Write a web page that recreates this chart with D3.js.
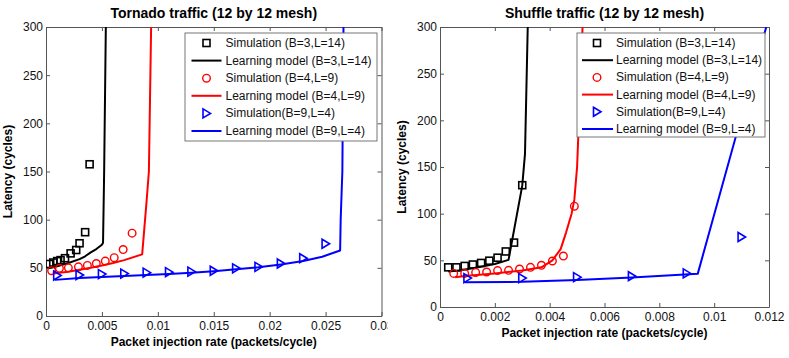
<!DOCTYPE html>
<html>
<head>
<meta charset="utf-8">
<script src="https://cdn.jsdelivr.net/npm/d3@7"></script>
<style>
  body { margin: 0; background: #fff; }
  svg { font-family: "Liberation Sans", Arial, sans-serif; }
</style>
</head>
<body>
<div id="chart"></div>
<script>
// data: [rate (packets/cycle), latency (cycles)]

const tornadoSimB3 = [[0.0003, 54], [0.00065, 55.5], [0.001, 57], [0.0013, 58], [0.0017, 60], [0.0022, 65], [0.0027, 68.5], [0.003, 75.5], [0.0035, 87], [0.0039, 157.5]];
const tornadoModelB3 = [[0.0002, 49.5], [0.001, 51.5], [0.002, 55], [0.003, 59], [0.0035, 62], [0.004, 66], [0.0045, 69.5], [0.005, 74], [0.0051, 76], [0.0052, 150], [0.00535, 300]];
const tornadoSimB4 = [[0.0005, 47], [0.0012, 49.5], [0.002, 50], [0.0029, 51], [0.0037, 52.5], [0.0045, 54.5], [0.0053, 57], [0.0061, 60.5], [0.0069, 69], [0.0077, 86]];
const tornadoModelB4 = [[0.0006, 44], [0.002, 46], [0.003, 48], [0.004, 50], [0.005, 52.5], [0.006, 55], [0.007, 58], [0.0086, 64], [0.009, 120], [0.0092, 150], [0.0094, 300]];
const tornadoSimB9 = [[0.001, 42], [0.003, 42.5], [0.005, 43.5], [0.007, 44], [0.009, 45], [0.011, 45.5], [0.013, 46], [0.015, 47], [0.017, 49.5], [0.019, 51], [0.021, 54.5], [0.023, 60], [0.025, 75]];
const tornadoModelB9 = [[0.0008, 37.5], [0.003, 39.5], [0.005, 40.5], [0.007, 41.5], [0.009, 42.5], [0.011, 43.5], [0.013, 45], [0.015, 46.5], [0.017, 48.5], [0.019, 50.5], [0.021, 53.5], [0.023, 57], [0.0247, 61.5], [0.0263, 68], [0.02635, 100], [0.0265, 150], [0.0266, 300]];

const shuffleSimB3 = [[0.0003, 42.5], [0.0006, 42.5], [0.0009, 44], [0.0012, 45.5], [0.0015, 47.2], [0.0018, 49.6], [0.0021, 52.8], [0.0024, 59.5], [0.0027, 69], [0.003, 130.5]];
const shuffleModelB3 = [[0.0003, 38], [0.0008, 39.5], [0.0014, 42.5], [0.002, 46], [0.0025, 50.5], [0.003, 130], [0.0031, 164], [0.0032, 300]];
const shuffleSimB4 = [[0.0005, 36], [0.0009, 36], [0.0013, 37], [0.0017, 37.5], [0.0021, 39], [0.0025, 39.3], [0.0029, 40.7], [0.0033, 42.5], [0.0037, 44.7], [0.0041, 49.3], [0.0045, 54.6], [0.0049, 108]];
const shuffleModelB4 = [[0.00055, 32], [0.001, 33.5], [0.002, 36], [0.003, 39], [0.0037, 42.5], [0.0041, 50], [0.0044, 62], [0.0046, 80], [0.0048, 100], [0.0049, 115], [0.005, 150], [0.0052, 300]];
const shuffleSimB9 = [[0.001, 31], [0.003, 31], [0.005, 32], [0.007, 33], [0.009, 36], [0.011, 75]];
const shuffleModelB9 = [[0.0009, 26.5], [0.003, 27], [0.005, 29], [0.007, 31.5], [0.0094, 35.5], [0.0119, 300]];

const legendLabels = ["Simulation (B=3,L=14)", "Learning model (B=3,L=14)", "Simulation (B=4,L=9)",
                      "Learning model (B=4,L=9)", "Simulation(B=9,L=4)", "Learning model (B=9,L=4)"];
const legendColors = ["black", "black", "red", "red", "blue", "blue"];
const legendKinds = ["square", "line", "circle", "line", "triangle", "line"];

const tornadoXTicks = [0, 0.005, 0.01, 0.015, 0.02, 0.025, 0.03];
const shuffleXTicks = [0, 0.002, 0.004, 0.006, 0.008, 0.01, 0.012];
const yTicks = [0, 50, 100, 150, 200, 250, 300];

const width = 789, height = 358;

const svg = d3.select("#chart").append("svg")
    .attr("width", width)
    .attr("height", height);

const panels = [
    { id: "tor", title: "Tornado traffic (12 by 12 mesh)", left: 46, right: 381.5, top: 27, bottom: 316,
      clipW: 388, xMax: 0.03, xTicks: tornadoXTicks,
      legend: { x: 185, y: 33, w: 192, h: 108, step: 17.6, sym: 21.5, line: [6.5, 36.5], text: 40.5 },
      sims: [tornadoSimB3, tornadoSimB4, tornadoSimB9], models: [tornadoModelB3, tornadoModelB4, tornadoModelB9] },
    { id: "shu", title: "Shuffle traffic (12 by 12 mesh)", left: 440, right: 769, top: 27, bottom: 307,
      clipW: null, xMax: 0.012, xTicks: shuffleXTicks,
      legend: { x: 577, y: 33, w: 188, h: 104, step: 17.2, sym: 20, line: [5, 36], text: 39 },
      sims: [shuffleSimB3, shuffleSimB4, shuffleSimB9], models: [shuffleModelB3, shuffleModelB4, shuffleModelB9] }
];

const colors = ["black", "red", "blue"];
const axisColor = "#555";

function drawMarker(g, kind, x, y, color) {
    if (kind === "square") {
        g.append("rect").attr("x", x - 3.5).attr("y", y - 3.5).attr("width", 7).attr("height", 7)
            .attr("fill", "none").attr("stroke", color).attr("stroke-width", 1.6);
    } else if (kind === "circle") {
        g.append("circle").attr("cx", x).attr("cy", y).attr("r", 3.8)
            .attr("fill", "none").attr("stroke", color).attr("stroke-width", 1.4);
    } else {
        g.append("path").attr("d", `M${x - 3.5},${y - 4.5}L${x + 4},${y}L${x - 3.5},${y + 4.5}Z`)
            .attr("fill", "none").attr("stroke", color).attr("stroke-width", 1.6);
    }
}

const kinds = ["square", "circle", "triangle"];

panels.forEach(p => {
    let g = svg.append("g");

    if (p.clipW) {
        svg.append("clipPath").attr("id", p.id + "-panel")
            .append("rect").attr("x", 0).attr("y", 0).attr("width", p.clipW).attr("height", height);
        g.attr("clip-path", `url(#${p.id}-panel)`);
    }

    let x = d3.scaleLinear().domain([0, p.xMax]).range([p.left, p.right]);
    let y = d3.scaleLinear().domain([0, 300]).range([p.bottom, p.top]);

    // plot-area clip for lines
    svg.append("clipPath").attr("id", p.id + "-plot")
        .append("rect").attr("x", p.left).attr("y", p.top)
        .attr("width", p.right - p.left).attr("height", p.bottom - p.top);

    let line = d3.line().x(d => x(d[0])).y(d => y(d[1]));

    // axes with inward ticks on all four sides (box)
    let fmt = d => String(d);
    let xb = g.append("g").attr("transform", `translate(0,${p.bottom})`)
        .call(d3.axisBottom(x).tickValues(p.xTicks).tickFormat(fmt).tickSizeInner(-4).tickSizeOuter(0).tickPadding(5));
    let xt = g.append("g").attr("transform", `translate(0,${p.top})`)
        .call(d3.axisTop(x).tickValues(p.xTicks).tickFormat("").tickSizeInner(-4).tickSizeOuter(0));
    let yl = g.append("g").attr("transform", `translate(${p.left},0)`)
        .call(d3.axisLeft(y).tickValues(yTicks).tickSizeInner(-4).tickSizeOuter(0).tickPadding(3));
    let yr = g.append("g").attr("transform", `translate(${p.right},0)`)
        .call(d3.axisRight(y).tickValues(yTicks).tickFormat("").tickSizeInner(-4).tickSizeOuter(0));

    [xb, xt, yl, yr].forEach(a => {
        a.select(".domain").attr("stroke", axisColor);
        a.selectAll(".tick line").attr("stroke", axisColor);
        a.selectAll(".tick text").attr("fill", "#111").style("font-size", "12px")
            .style("font-family", "'Liberation Sans', Arial, sans-serif");
    });

    let plot = g.append("g").attr("clip-path", `url(#${p.id}-plot)`);

    p.models.forEach((m, i) => {
        plot.append("path")
            .datum(m)
            .attr("fill", "none")
            .attr("stroke", colors[i])
            .attr("stroke-width", 2)
            .attr("stroke-linejoin", "round")
            .attr("d", line);
    });

    p.sims.forEach((s, i) => {
        let sg = plot.append("g");
        s.forEach(d => drawMarker(sg, kinds[i], x(d[0]), y(d[1]), colors[i]));
    });

    // legend
    let L = p.legend;
    let lg = g.append("g").attr("transform", `translate(${L.x},${L.y})`);
    lg.append("rect").attr("width", L.w).attr("height", L.h)
        .attr("fill", "white").attr("stroke", "#777").attr("stroke-width", 1);

    legendLabels.forEach((lab, i) => {
        let cy = 10 + i * L.step;
        if (legendKinds[i] === "line") {
            lg.append("line").attr("x1", L.line[0]).attr("x2", L.line[1])
                .attr("y1", cy).attr("y2", cy)
                .attr("stroke", legendColors[i]).attr("stroke-width", 2);
        } else {
            drawMarker(lg, legendKinds[i], L.sym, cy, legendColors[i]);
        }
        lg.append("text").attr("x", L.text).attr("y", cy)
            .attr("dominant-baseline", "central")
            .style("font-size", "12px")
            .attr("fill", "#111")
            .text(lab);
    });

    // titles and axis labels
    let cx = (p.left + p.right) / 2;
    g.append("text").attr("x", cx).attr("y", 18)
        .attr("text-anchor", "middle").style("font-size", "14px").style("font-weight", "bold")
        .text(p.title);

    g.append("text").attr("x", cx).attr("y", p.bottom + 30)
        .attr("text-anchor", "middle").style("font-size", "12px").style("font-weight", "bold")
        .text("Packet injection rate (packets/cycle)");

    g.append("text")
        .attr("transform", `translate(${p.left - 34},${(p.top + p.bottom) / 2}) rotate(-90)`)
        .attr("text-anchor", "middle").style("font-size", "12px").style("font-weight", "bold")
        .text("Latency (cycles)");
});
</script>
</body>
</html>
